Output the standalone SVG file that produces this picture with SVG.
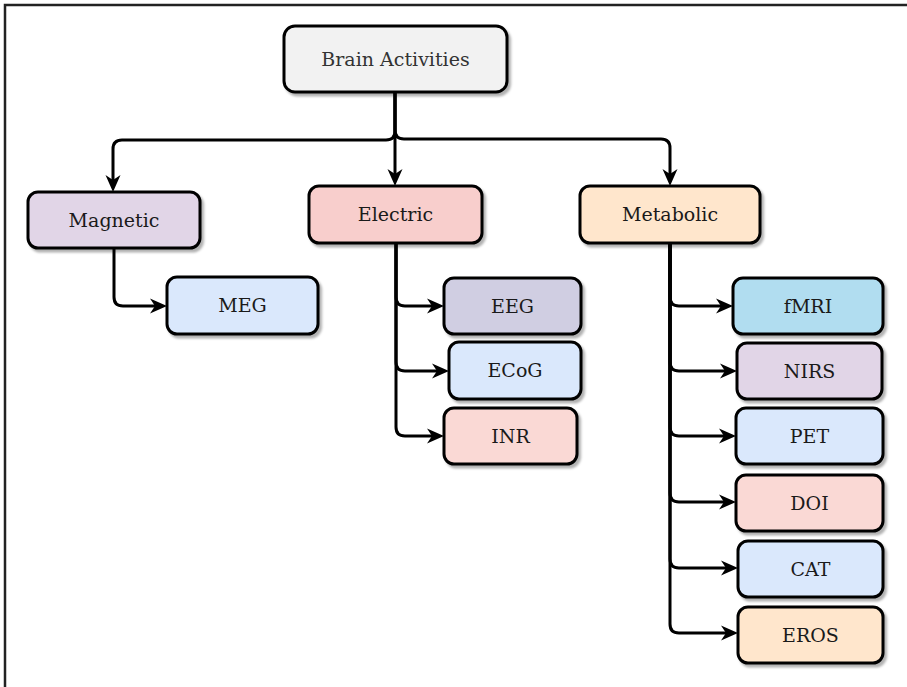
<svg xmlns="http://www.w3.org/2000/svg" width="907" height="687" viewBox="0 0 907 687">
  <style>
    .box { stroke: #000; stroke-width: 3; filter: url(#shadow); }
    .lbl { font-family: "DejaVu Serif", "Liberation Serif", serif; font-size: 19px; fill: #1a1a1a; text-anchor: middle; }
    .edge { fill: none; stroke: #000; stroke-width: 3; marker-end: url(#arrow); }
  </style>
  <defs>
    <filter id="shadow" x="-10%" y="-10%" width="130%" height="140%">
      <feDropShadow dx="2.5" dy="3" stdDeviation="1.2" flood-color="#000" flood-opacity="0.3"/>
    </filter>
    <marker id="arrow" markerUnits="userSpaceOnUse" markerWidth="18" markerHeight="16" viewBox="0 0 18 16" refX="10" refY="8" orient="auto">
      <path d="M0,0.5 L17,8 L0,15.5 L5,8 Z" fill="#000"/>
    </marker>
  </defs>

  <!-- frame -->
  <polyline points="5,687 5,5 907,5" fill="none" stroke="#222" stroke-width="2.5"/>

  <!-- connectors -->
  <g id="connectors">
    <path class="edge" d="M395,92 V179"/>
    <path class="edge" d="M395,92 V131 Q395,140 386,140 H122 Q113,140 113,149 V185"/>
    <path class="edge" d="M395,92 V130 Q395,139 404,139 H661 Q670,139 670,148 V179"/>

    <path class="edge" d="M114,248 V297 Q114,306 123,306 H160"/>

    <path class="edge" d="M396,243 V297 Q396,306 405,306 H437"/>
    <path class="edge" d="M396,243 V362 Q396,371 405,371 H442"/>
    <path class="edge" d="M396,243 V427 Q396,436 405,436 H437"/>

    <path class="edge" d="M670,243 V297 Q670,306 679,306 H726"/>
    <path class="edge" d="M670,243 V362 Q670,371 679,371 H730"/>
    <path class="edge" d="M670,243 V427 Q670,436 679,436 H729"/>
    <path class="edge" d="M670,243 V493 Q670,502 679,502 H729"/>
    <path class="edge" d="M670,243 V559 Q670,568 679,568 H731"/>
    <path class="edge" d="M670,243 V624 Q670,633 679,633 H731"/>
  </g>

  <g id="brain-activities">
    <rect class="box" x="284" y="26" width="223" height="66" rx="11" fill="#f2f2f2"/>
    <text class="lbl" x="395.5" y="66" style="fill:#333">Brain Activities</text>
  </g>

  <g id="magnetic">
    <rect class="box" x="28" y="192" width="172" height="56" rx="10" fill="#e1d5e7"/>
    <text class="lbl" x="114" y="227">Magnetic</text>
  </g>
  <g id="meg">
    <rect class="box" x="167" y="277" width="151" height="57" rx="10" fill="#dae8fc"/>
    <text class="lbl" x="242.5" y="312">MEG</text>
  </g>

  <g id="electric">
    <rect class="box" x="309" y="186" width="173" height="57" rx="10" fill="#f8cecc"/>
    <text class="lbl" x="395.5" y="221">Electric</text>
  </g>
  <g id="eeg">
    <rect class="box" x="444" y="278" width="137" height="56" rx="10" fill="#d0cee2"/>
    <text class="lbl" x="512.5" y="313">EEG</text>
  </g>
  <g id="ecog">
    <rect class="box" x="449" y="342" width="132" height="57" rx="10" fill="#dae8fc"/>
    <text class="lbl" x="515" y="377">ECoG</text>
  </g>
  <g id="inr">
    <rect class="box" x="444" y="408" width="133" height="56" rx="10" fill="#fad9d5"/>
    <text class="lbl" x="510.5" y="443">INR</text>
  </g>

  <g id="metabolic">
    <rect class="box" x="580" y="186" width="180" height="57" rx="10" fill="#ffe6cc"/>
    <text class="lbl" x="670" y="221">Metabolic</text>
  </g>
  <g id="fmri">
    <rect class="box" x="733" y="278" width="150" height="56" rx="10" fill="#b1ddf0"/>
    <text class="lbl" x="808" y="313">fMRI</text>
  </g>
  <g id="nirs">
    <rect class="box" x="737" y="343" width="145" height="56" rx="10" fill="#e1d5e7"/>
    <text class="lbl" x="809.5" y="378">NIRS</text>
  </g>
  <g id="pet">
    <rect class="box" x="736" y="408" width="147" height="56" rx="10" fill="#dae8fc"/>
    <text class="lbl" x="809.5" y="443">PET</text>
  </g>
  <g id="doi">
    <rect class="box" x="736" y="475" width="147" height="56" rx="10" fill="#fad9d5"/>
    <text class="lbl" x="809.5" y="510">DOI</text>
  </g>
  <g id="cat">
    <rect class="box" x="738" y="541" width="145" height="56" rx="10" fill="#dae8fc"/>
    <text class="lbl" x="810.5" y="576">CAT</text>
  </g>
  <g id="eros">
    <rect class="box" x="738" y="607" width="145" height="56" rx="10" fill="#ffe6cc"/>
    <text class="lbl" x="810.5" y="642">EROS</text>
  </g>
</svg>
